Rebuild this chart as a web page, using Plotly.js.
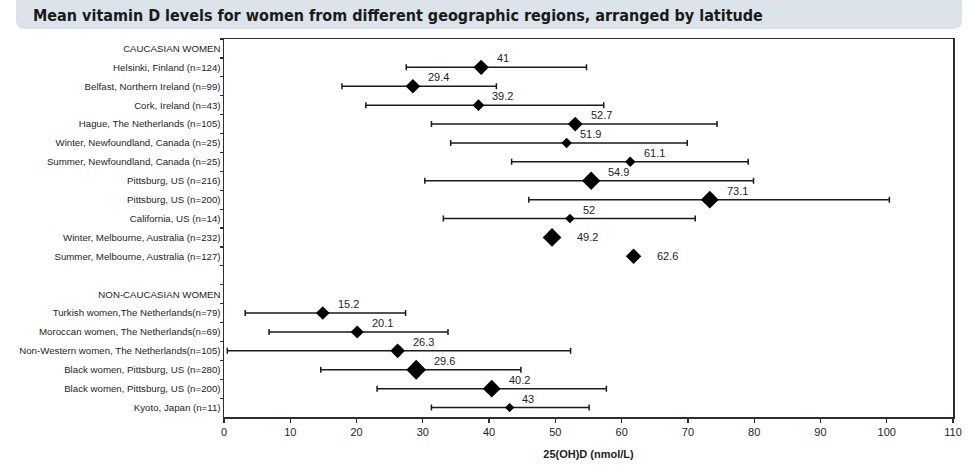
<!DOCTYPE html>
<html>
<head>
<meta charset="utf-8">
<script src="https://cdn.plot.ly/plotly-3.0.1.min.js"></script>
<style>
  html, body { margin: 0; padding: 0; background: #ffffff; }
  #chart { width: 975px; height: 469px; }
</style>
</head>
<body>
<div id="chart"></div>
<script>
// ---- Data ----
const chartTitle = "Mean vitamin D levels for women from different geographic regions, arranged by latitude";
const xAxisTitle = "25(OH)D (nmol/L)";

// Row order of the y axis (top to bottom), including group headers and a spacer row
const rowLabels = [
  "CAUCASIAN WOMEN",
  "Helsinki, Finland (n=124)",
  "Belfast, Northern Ireland (n=99)",
  "Cork, Ireland (n=43)",
  "Hague, The Netherlands (n=105)",
  "Winter, Newfoundland, Canada (n=25)",
  "Summer, Newfoundland, Canada (n=25)",
  "Pittsburg, US (n=216)",
  "Pittsburg, US (n=200)",
  "California, US (n=14)",
  "Winter, Melbourne, Australia (n=232)",
  "Summer, Melbourne, Australia (n=127)",
  " ",
  "NON-CAUCASIAN WOMEN",
  "Turkish women,The Netherlands(n=79)",
  "Moroccan women, The Netherlands(n=69)",
  "Non-Western women, The Netherlands(n=105)",
  "Black women, Pittsburg, US (n=280)",
  "Black women, Pittsburg, US (n=200)",
  "Kyoto, Japan (n=11)"
];

// Studies (rows carrying a data point)
const studies = [
  "Helsinki, Finland (n=124)",
  "Belfast, Northern Ireland (n=99)",
  "Cork, Ireland (n=43)",
  "Hague, The Netherlands (n=105)",
  "Winter, Newfoundland, Canada (n=25)",
  "Summer, Newfoundland, Canada (n=25)",
  "Pittsburg, US (n=216)",
  "Pittsburg, US (n=200)",
  "California, US (n=14)",
  "Winter, Melbourne, Australia (n=232)",
  "Summer, Melbourne, Australia (n=127)",
  "Turkish women,The Netherlands(n=79)",
  "Moroccan women, The Netherlands(n=69)",
  "Non-Western women, The Netherlands(n=105)",
  "Black women, Pittsburg, US (n=280)",
  "Black women, Pittsburg, US (n=200)",
  "Kyoto, Japan (n=11)"
];
const sampleSizes = [124, 99, 43, 105, 25, 25, 216, 200, 14, 232, 127, 79, 69, 105, 280, 200, 11];
const meanValues  = [38.8, 28.5, 38.4, 53.0, 51.7, 61.3, 55.4, 73.3, 52.2, 49.5, 61.8, 14.9, 20.1, 26.2, 29.0, 40.4, 43.1];
const valueLabels = ["41", "29.4", "39.2", "52.7", "51.9", "61.1", "54.9", "73.1", "52", "49.2", "62.6", "15.2", "20.1", "26.3", "29.6", "40.2", "43"];
const lowerValues = [27.5, 17.8, 21.4, 31.3, 34.2, 43.4, 30.3, 46.0, 33.1, null, null, 3.2, 6.8, 0.5, 14.6, 23.1, 31.3];
const upperValues = [54.7, 41.1, 57.3, 74.4, 69.9, 79.1, 79.9, 100.4, 71.1, null, null, 27.4, 33.8, 52.3, 44.8, 57.7, 55.1];
const xTickValues = [0, 10, 20, 30, 40, 50, 60, 70, 80, 90, 100, 110];

// ---- Styling / layout ----
const W = 975, H = 469;
const M = { l: 224, r: 22, t: 39, b: 52 };
const plotW = W - M.l - M.r, plotH = H - M.t - M.b;
const px2paperX = px => (px - M.l) / plotW;
const px2paperY = py => (H - M.b - py) / plotH;

const textColor = "#1e1e1e";
const baseFont = "Liberation Sans, Arial, sans-serif";
const titleFont = "DejaVu Sans Condensed, Liberation Sans Narrow, Arial Narrow, sans-serif";

// marker width (px) grows with sample size; Plotly diamond width = 1.3 * size
const markerWidth = nv => 6.5 + 0.8 * Math.sqrt(nv);
const markerSize = nv => markerWidth(nv) / 1.3;

const idxErr = [], idxNoErr = [];
studies.forEach((s, i) => (lowerValues[i] !== null ? idxErr : idxNoErr).push(i));
const pick = (arr, idx) => idx.map(i => arr[i]);

const traces = [
  // invisible helper trace so every row (headers, spacer) exists on the category axis
  {
    type: "scatter", mode: "markers",
    x: rowLabels.map(() => 0), y: rowLabels,
    marker: { opacity: 0, size: 1 }, hoverinfo: "skip", showlegend: false
  },
  {
    type: "scatter", mode: "markers",
    x: pick(meanValues, idxErr), y: pick(studies, idxErr),
    error_x: {
      type: "data", symmetric: false,
      array: idxErr.map(i => upperValues[i] - meanValues[i]),
      arrayminus: idxErr.map(i => meanValues[i] - lowerValues[i]),
      color: "#1a1a1a", thickness: 1.5, width: 3
    },
    marker: { symbol: "diamond", color: "#000000", opacity: 1, size: pick(sampleSizes, idxErr).map(markerSize), line: { width: 0 } },
    showlegend: false
  },
  {
    type: "scatter", mode: "markers",
    x: pick(meanValues, idxNoErr), y: pick(studies, idxNoErr),
    marker: { symbol: "diamond", color: "#000000", opacity: 1, size: pick(sampleSizes, idxNoErr).map(markerSize), line: { width: 0 } },
    showlegend: false
  }
];

const annotations = studies.map((s, i) => {
  const hasErr = lowerValues[i] !== null;
  const half = markerWidth(sampleSizes[i]) / 2;
  return {
    x: meanValues[i], y: s, xref: "x", yref: "y",
    text: valueLabels[i], showarrow: false,
    xanchor: "left", yanchor: "middle",
    xshift: hasErr ? half + 6 : half + 14,
    yshift: hasErr ? 9 : 0,
    font: { family: baseFont, size: 11, color: textColor }
  };
});

// title banner (rounded rectangle) drawn as a paper-referenced path
function roundedRect(x0, y0, x1, y1, r) {
  const X = px2paperX, Y = px2paperY;
  return `M${X(x0 + r)},${Y(y0)} L${X(x1 - r)},${Y(y0)} Q${X(x1)},${Y(y0)} ${X(x1)},${Y(y0 + r)} ` +
         `L${X(x1)},${Y(y1 - r)} Q${X(x1)},${Y(y1)} ${X(x1 - r)},${Y(y1)} ` +
         `L${X(x0 + r)},${Y(y1)} Q${X(x0)},${Y(y1)} ${X(x0)},${Y(y1 - r)} ` +
         `L${X(x0)},${Y(y0 + r)} Q${X(x0)},${Y(y0)} ${X(x0 + r)},${Y(y0)} Z`;
}

const layout = {
  width: W, height: H,
  margin: M,
  paper_bgcolor: "#ffffff", plot_bgcolor: "#ffffff",
  showlegend: false,
  title: {
    text: chartTitle,
    xref: "container", yref: "container",
    x: 33 / W, xanchor: "left",
    y: 1 - 15 / H, yanchor: "middle",
    font: { family: titleFont, size: 16, weight: 700, color: "#1a1a1a" }
  },
  shapes: [
    {
      type: "path", xref: "paper", yref: "paper", layer: "below",
      path: roundedRect(16, -12, 962, 29, 9),
      fillcolor: "#dce3ea", line: { width: 0 }
    }
  ],
  xaxis: {
    range: [0, 110], tickvals: xTickValues, ticktext: xTickValues.map(String),
    showgrid: false, zeroline: false,
    showline: true, mirror: true, linecolor: "#2e2e2e", linewidth: 1.5,
    ticks: "outside", ticklen: 4, tickwidth: 1.2, tickcolor: "#2e2e2e",
    tickfont: { family: baseFont, size: 11, color: textColor },
    title: { text: xAxisTitle, standoff: 13, font: { family: baseFont, size: 11, weight: 700, color: textColor } },
    fixedrange: true
  },
  yaxis: {
    type: "category", categoryorder: "array", categoryarray: rowLabels,
    range: [rowLabels.length - 0.5, -0.5],
    tickson: "boundaries",
    showgrid: false, zeroline: false,
    showline: true, mirror: true, linecolor: "#2e2e2e", linewidth: 1.5,
    ticks: "outside", ticklen: 3, tickwidth: 1.2, tickcolor: "#2e2e2e",
    tickfont: { family: baseFont, size: 9.7, color: textColor },
    fixedrange: true
  },
  annotations: annotations
};

Plotly.newPlot("chart", traces, layout, { staticPlot: true, displayModeBar: false });
</script>
</body>
</html>
